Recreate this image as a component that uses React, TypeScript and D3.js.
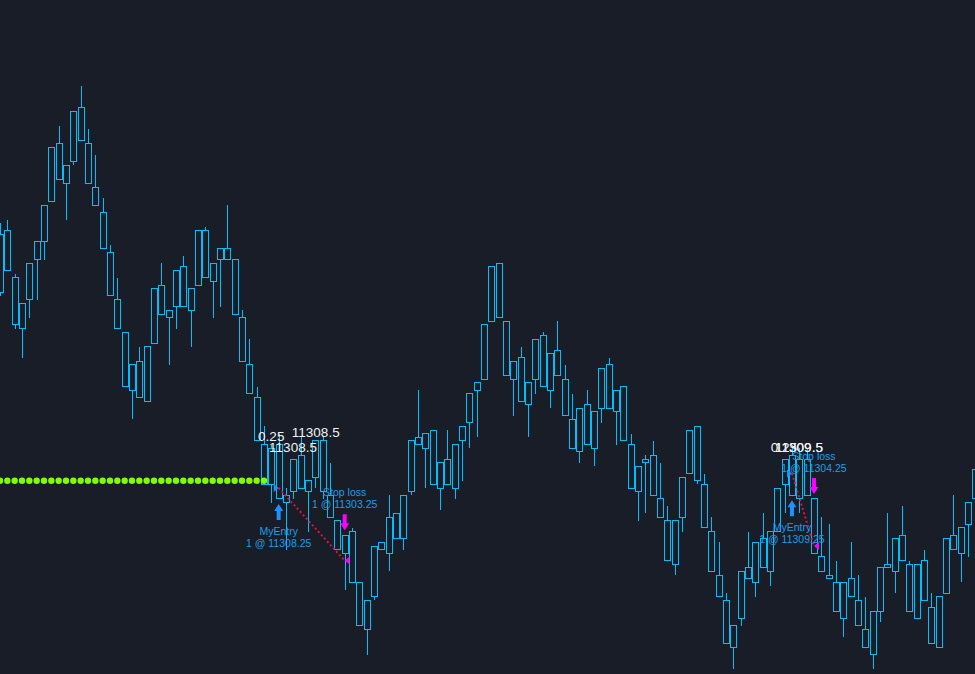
import React from "react";
import * as d3 from "d3";

const W = 975;
const H = 674;

// OHLC data (one bar per index)
const open = [
  11325.75, 11323.25, 11322.75, 11321.0, 11321.25, 11324.0, 11325.25, 11328.0, 11329.5, 11330.5,
  11330.75, 11332.25, 11332.0, 11329.0, 11327.25, 11324.5, 11321.25, 11319.0, 11316.75, 11317.0,
  11314.25, 11318.25, 11320.25, 11320.5, 11320.75, 11320.75, 11322.0, 11322.25, 11322.75, 11323.75,
  11324.0, 11324.0, 11324.0, 11320.0, 11316.75, 11314.5, 11311.25, 11311.0, 11311.25, 11307.75,
  11308.0, 11308.25, 11308.75, 11309.0, 11311.5, 11307.75, 11306.0, 11305.0, 11305.25, 11301.75,
  11300.5, 11300.75, 11304.0, 11303.75, 11304.75, 11304.75, 11308.0, 11311.25, 11312.0, 11312.25,
  11310.0, 11308.5, 11308.25, 11311.5, 11312.75, 11315.0, 11315.75, 11319.75, 11320.0, 11319.75,
  11317.0, 11317.25, 11315.5, 11315.75, 11318.75, 11317.5, 11316.0, 11315.75, 11313.0, 11310.75,
  11311.25, 11313.5, 11313.75, 11313.75, 11315.0, 11315.25, 11311.25, 11309.75, 11310.0, 11310.5,
  11307.5, 11306.0, 11306.0, 11306.25, 11309.25, 11312.5, 11308.5, 11305.25, 11302.25, 11300.5,
  11298.75, 11299.25, 11302.0, 11301.75, 11302.75, 11302.5, 11305.25, 11308.5, 11310.5, 11310.25,
  11307.75, 11307.5, 11303.5, 11302.25, 11301.75, 11301.75, 11300.75, 11300.5, 11298.5, 11296.75,
  11299.75, 11302.75, 11302.5, 11303.25, 11303.0, 11303.0, 11300.5, 11300.0, 11297.25, 11301.0,
  11304.0, 11303.75, 11305.75, 11307.5,
];
const high = [
  11326.5, 11326.75, 11323.0, 11321.0, 11323.75, 11325.25, 11327.75, 11331.75, 11333.25, 11330.5,
  11334.25, 11336.0, 11333.0, 11331.25, 11328.25, 11325.0, 11322.75, 11319.0, 11316.75, 11318.0,
  11318.0, 11322.0, 11323.75, 11320.5, 11323.25, 11324.25, 11322.0, 11326.0, 11326.25, 11323.75,
  11324.75, 11327.75, 11324.0, 11320.5, 11318.5, 11315.25, 11312.5, 11311.25, 11312.0, 11308.25,
  11310.25, 11311.75, 11308.75, 11311.5, 11311.75, 11310.0, 11306.0, 11305.0, 11305.5, 11301.75,
  11300.5, 11304.25, 11304.5, 11307.75, 11306.5, 11307.75, 11311.5, 11315.0, 11312.0, 11312.25,
  11310.0, 11312.25, 11311.25, 11312.5, 11314.75, 11315.5, 11319.5, 11323.5, 11323.75, 11319.75,
  11317.0, 11318.0, 11315.5, 11318.5, 11319.0, 11317.5, 11319.75, 11316.75, 11314.75, 11313.75,
  11315.0, 11313.5, 11316.5, 11317.25, 11315.0, 11315.25, 11312.0, 11309.75, 11310.5, 11311.5,
  11310.0, 11307.0, 11306.0, 11309.0, 11312.25, 11312.5, 11309.25, 11306.25, 11304.5, 11301.0,
  11298.75, 11302.5, 11305.25, 11304.5, 11306.5, 11305.25, 11308.25, 11310.25, 11311.25, 11311.0,
  11311.0, 11307.5, 11306.25, 11305.75, 11303.25, 11301.75, 11304.5, 11302.25, 11300.75, 11299.75,
  11302.75, 11306.5, 11304.75, 11307.0, 11303.25, 11303.0, 11304.0, 11301.0, 11300.75, 11304.75,
  11307.75, 11305.5, 11307.25, 11309.5,
];
const low = [
  11321.5, 11323.25, 11319.25, 11317.25, 11320.0, 11321.25, 11324.0, 11328.0, 11329.5, 11326.75,
  11330.5, 11332.25, 11329.25, 11327.75, 11324.75, 11321.5, 11319.25, 11315.25, 11313.0, 11314.5,
  11314.25, 11318.25, 11320.25, 11316.75, 11319.25, 11320.75, 11318.0, 11322.25, 11322.75, 11320.0,
  11320.75, 11324.0, 11320.25, 11317.0, 11314.75, 11311.5, 11308.5, 11307.25, 11307.5, 11304.0,
  11307.5, 11308.25, 11305.25, 11308.25, 11307.5, 11306.25, 11304.0, 11301.25, 11301.75, 11298.75,
  11296.75, 11300.5, 11304.0, 11302.5, 11304.75, 11304.0, 11307.75, 11311.25, 11308.25, 11308.5,
  11306.75, 11308.5, 11307.5, 11308.75, 11311.0, 11311.75, 11315.75, 11319.75, 11320.0, 11316.0,
  11313.25, 11314.25, 11311.75, 11314.75, 11315.25, 11313.75, 11316.0, 11313.25, 11311.0, 11310.0,
  11311.25, 11309.75, 11312.75, 11313.75, 11311.25, 11311.5, 11308.25, 11306.0, 11306.5, 11307.75,
  11306.25, 11303.25, 11302.25, 11305.25, 11309.25, 11308.5, 11305.5, 11302.5, 11300.75, 11297.5,
  11295.75, 11298.75, 11302.0, 11300.75, 11302.75, 11301.5, 11305.25, 11306.5, 11307.75, 11306.5,
  11307.75, 11303.75, 11302.5, 11302.0, 11299.75, 11298.0, 11300.75, 11298.75, 11297.25, 11295.75,
  11299.0, 11302.75, 11301.0, 11303.25, 11299.75, 11299.25, 11300.5, 11297.5, 11297.25, 11301.0,
  11304.0, 11301.75, 11303.5, 11307.5,
];
const close = [
  11321.75, 11326.0, 11319.5, 11319.25, 11323.75, 11325.25, 11327.75, 11331.75, 11332.0, 11329.25,
  11334.25, 11334.5, 11329.25, 11327.75, 11324.75, 11321.5, 11319.25, 11315.25, 11315.0, 11314.5,
  11318.0, 11322.0, 11322.25, 11320.0, 11323.25, 11323.5, 11320.5, 11326.0, 11326.0, 11322.5,
  11324.75, 11324.75, 11320.25, 11317.0, 11314.75, 11311.5, 11308.5, 11308.5, 11307.5, 11307.25,
  11310.25, 11310.5, 11308.0, 11311.5, 11308.0, 11306.25, 11304.0, 11303.75, 11301.75, 11298.75,
  11298.5, 11304.25, 11304.5, 11306.25, 11306.5, 11307.75, 11311.5, 11311.75, 11311.0, 11308.5,
  11308.25, 11310.25, 11311.25, 11312.5, 11314.75, 11315.5, 11319.5, 11323.5, 11323.75, 11316.0,
  11315.75, 11314.25, 11314.0, 11318.5, 11315.25, 11315.0, 11317.75, 11313.25, 11311.0, 11313.75,
  11314.0, 11311.0, 11316.5, 11316.75, 11313.5, 11311.5, 11308.25, 11308.0, 11310.25, 11307.75,
  11306.25, 11303.25, 11303.0, 11309.0, 11312.25, 11308.75, 11305.5, 11302.5, 11300.75, 11297.5,
  11297.25, 11302.5, 11302.75, 11304.5, 11304.75, 11305.25, 11308.25, 11310.25, 11307.75, 11307.5,
  11310.25, 11303.75, 11302.5, 11302.0, 11299.75, 11299.25, 11302.0, 11298.75, 11297.25, 11299.75,
  11302.75, 11303.0, 11304.75, 11305.0, 11299.75, 11299.25, 11303.25, 11297.5, 11300.75, 11304.75,
  11305.0, 11305.5, 11307.25, 11309.5,
];

// green dotted indicator level (bars 0..36)
const dotStart = 0;
const dotEnd = 36;
const dotPrice = 11308.75;

// trades
const tradeEntryIdx = [38, 108];
const tradeEntryPrice = [11308.25, 11309.25];
const tradeExitIdx = [47, 111];
const tradeExitPrice = [11303.25, 11304.25];
const tradeEntryName = ["MyEntry", "MyEntry"];
const tradeExitName = ["Stop loss", "Stop loss"];
const tradeQty = [1, 1];

// white value labels: text, anchor bar, anchor price
const labelText = ["0.25", "11308.5", "11308.5", "0.25", "11309.5", "11309.5"];
const labelIdx = [35.2, 39.8, 36.7, 105.1, 105.7, 105.7];
const labelPrice = [11311.5, 11311.75, 11310.75, 11310.75, 11310.75, 11310.75];

const BG = "#191d28";
const CANDLE = "#00bfff";
const TEXT_BLUE = "#1e9ee6";
const ARROW_BLUE = "#1e90ff";
const MAGENTA = "#ff00ff";

export default function App() {
  const n = open.length;
  const x = d3.scaleLinear().domain([0, n - 1]).range([0, 975.3]);
  const y = d3
    .scaleLinear()
    .domain([11308.25 - 186 / 14.5, 11308.25 + 488 / 14.5])
    .range([H, 0]);

  const bodyW = 5;
  const candles = d3.range(n).map((i) => {
    const cx = Math.round(x(i)) + 0.5;
    const top = y(Math.max(open[i], close[i]));
    const bot = y(Math.min(open[i], close[i]));
    const hi = y(high[i]);
    const lo = y(low[i]);
    return (
      <g key={i}>
        {hi < top - 0.5 && (
          <line x1={cx} x2={cx} y1={hi} y2={top} stroke={CANDLE} strokeWidth={1} />
        )}
        {lo > bot + 0.5 && (
          <line x1={cx} x2={cx} y1={bot} y2={lo} stroke={CANDLE} strokeWidth={1} />
        )}
        <rect
          x={cx - bodyW / 2 - 0.5}
          y={top}
          width={bodyW + 1}
          height={Math.max(1, bot - top)}
          fill="none"
          stroke={CANDLE}
          strokeWidth={1}
        />
      </g>
    );
  });

  const dots = d3.range(dotStart, dotEnd + 1).map((i) => (
    <circle key={"d" + i} cx={x(i)} cy={y(dotPrice)} r={3.2} fill="#7fff00" />
  ));

  const trades = tradeEntryIdx.map((ei, t) => {
    const ex = tradeExitIdx[t];
    const x1 = x(ei);
    const y1 = y(tradeEntryPrice[t]);
    const x2 = x(ex);
    const y2 = y(tradeExitPrice[t]);
    const lowY = y(low[ei]);
    const aTop = lowY + 5;
    const upArrow = `M${x1},${aTop} L${x1 + 4.5},${aTop + 7} L${x1 + 2},${aTop + 7} L${x1 + 2},${aTop + 16} L${x1 - 2},${aTop + 16} L${x1 - 2},${aTop + 7} L${x1 - 4.5},${aTop + 7} Z`;
    const hiY = y(high[ex]);
    const dBot = hiY - 5;
    const downArrow = `M${x2},${dBot} L${x2 + 4.5},${dBot - 7} L${x2 + 2},${dBot - 7} L${x2 + 2},${dBot - 16} L${x2 - 2},${dBot - 16} L${x2 - 2},${dBot - 7} L${x2 - 4.5},${dBot - 7} Z`;
    return (
      <g key={"t" + t}>
        <line
          x1={x1}
          y1={y1}
          x2={x2}
          y2={y2}
          stroke="#dc143c"
          strokeWidth={2}
          strokeDasharray="2 2.5"
        />
        <path d={`M${x1},${y1} L${x1 - 5},${y1 - 4} L${x1 - 5},${y1 + 4} Z`} fill={ARROW_BLUE} />
        <path d={`M${x2},${y2} L${x2 + 5},${y2 - 4} L${x2 + 5},${y2 + 4} Z`} fill={MAGENTA} />
        <path d={upArrow} fill={ARROW_BLUE} />
        <path d={downArrow} fill={MAGENTA} />
        <text
          x={x1}
          y={aTop + 31}
          textAnchor="middle"
          fill={TEXT_BLUE}
          fontSize={10.5}
          fontFamily="'Liberation Sans', Arial, sans-serif"
        >
          {tradeEntryName[t]}
        </text>
        <text
          x={x1}
          y={aTop + 43}
          textAnchor="middle"
          fill={TEXT_BLUE}
          fontSize={10.5}
          fontFamily="'Liberation Sans', Arial, sans-serif"
        >
          {`${tradeQty[t]} @ ${tradeEntryPrice[t].toFixed(2)}`}
        </text>
        <text
          x={x2}
          y={dBot - 34}
          textAnchor="middle"
          fill={TEXT_BLUE}
          fontSize={10.5}
          fontFamily="'Liberation Sans', Arial, sans-serif"
        >
          {tradeExitName[t]}
        </text>
        <text
          x={x2}
          y={dBot - 22}
          textAnchor="middle"
          fill={TEXT_BLUE}
          fontSize={10.5}
          fontFamily="'Liberation Sans', Arial, sans-serif"
        >
          {`${tradeQty[t]} @ ${tradeExitPrice[t].toFixed(2)}`}
        </text>
      </g>
    );
  });

  const labels = labelText.map((s, i) => (
    <text
      key={"l" + i}
      x={x(labelIdx[i])}
      y={y(labelPrice[i])}
      fill="#f2f2f2"
      fontSize={13.5}
      fontFamily="'Liberation Sans', Arial, sans-serif"
    >
      {s}
    </text>
  ));

  return (
    <div style={{ position: "fixed", left: 0, top: 0, width: W, height: H, background: BG }}>
      <svg width={W} height={H} style={{ display: "block" }}>
        <rect x={0} y={0} width={W} height={H} fill={BG} />
        <g shapeRendering="crispEdges">{candles}</g>
        {dots}
        {labels}
        {trades}
      </svg>
    </div>
  );
}
